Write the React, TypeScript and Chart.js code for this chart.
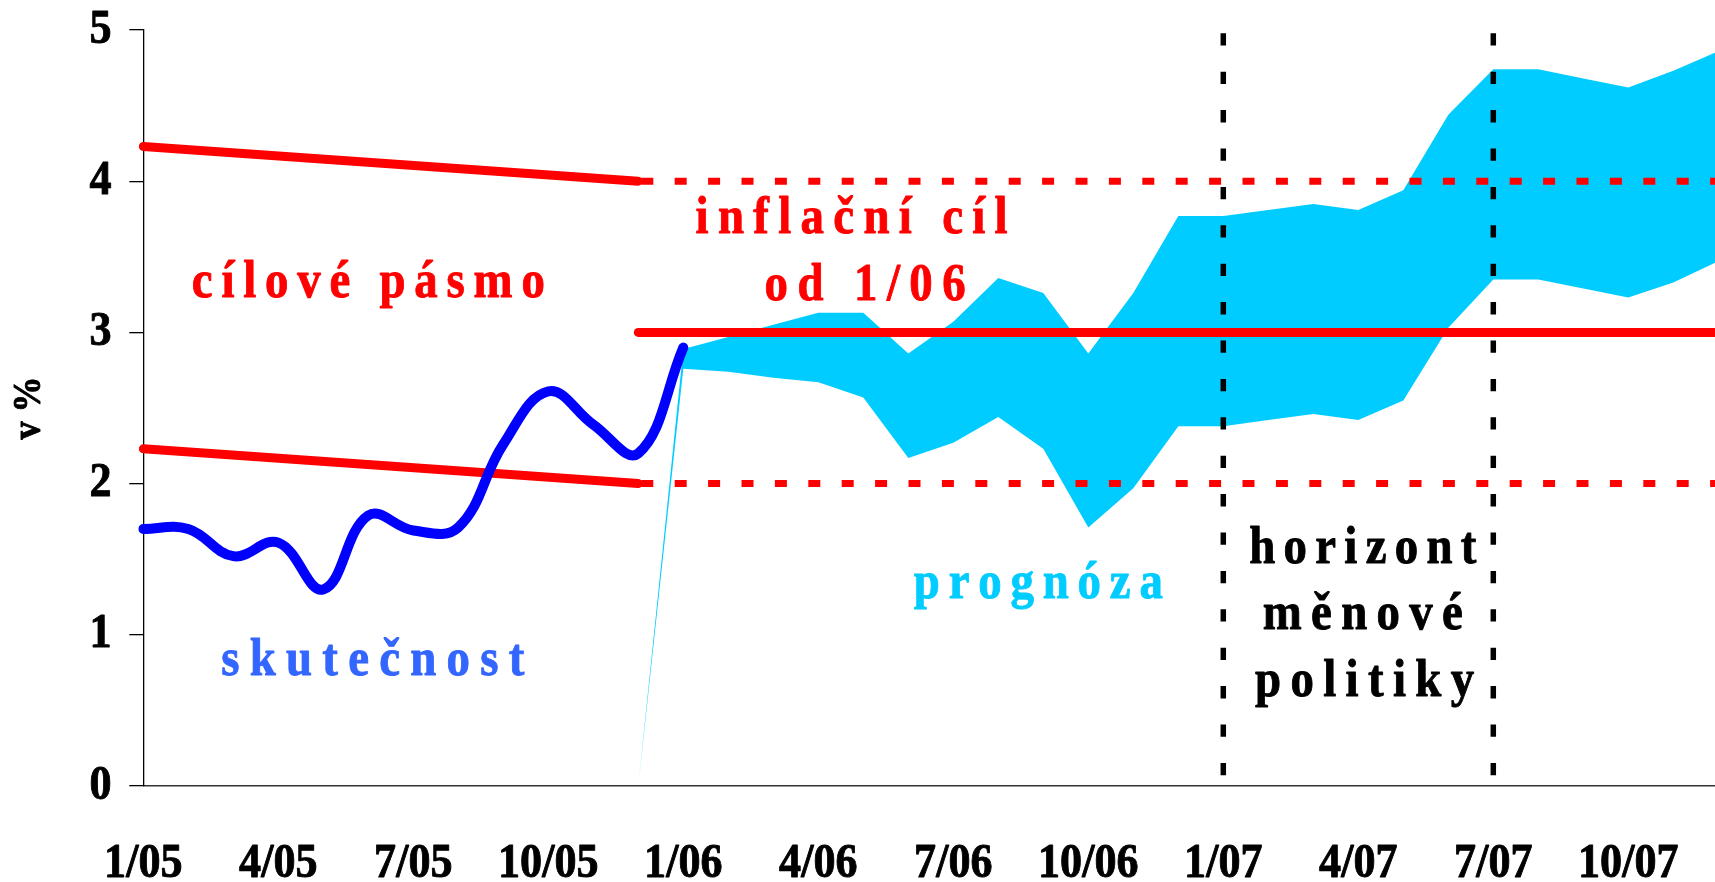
import React, { useEffect, useRef } from 'react';
import { Chart, registerables } from 'chart.js';

Chart.register(...registerables);

// ---------- data ----------
const months = [
  '1/05', '2/05', '3/05', '4/05', '5/05', '6/05', '7/05', '8/05', '9/05', '10/05', '11/05', '12/05',
  '1/06', '2/06', '3/06', '4/06', '5/06', '6/06', '7/06', '8/06', '9/06', '10/06', '11/06', '12/06',
  '1/07', '2/07', '3/07', '4/07', '5/07', '6/07', '7/07', '8/07', '9/07', '10/07', '11/07', '12/07',
];
const tickLabels = ['1/05', '4/05', '7/05', '10/05', '1/06', '4/06', '7/06', '10/06', '1/07', '4/07', '7/07', '10/07'];

// actual inflation (skutečnost)
const actualMonths = ['1/05', '2/05', '3/05', '4/05', '5/05', '6/05', '7/05', '8/05', '9/05', '10/05', '11/05', '12/05', '1/06'];
const actualValues = [1.70, 1.70, 1.52, 1.61, 1.30, 1.79, 1.69, 1.71, 2.26, 2.61, 2.39, 2.20, 2.90];

// forecast band (prognóza)
const forecastMonths = [
  '12/05', '1/06', '2/06', '3/06', '4/06', '5/06', '6/06', '7/06', '8/06', '9/06', '10/06', '11/06', '12/06',
  '1/07', '2/07', '3/07', '4/07', '5/07', '6/07', '7/07', '8/07', '9/07', '10/07', '11/07', '12/07',
];
const forecastLower = [0, 2.76, 2.74, 2.70, 2.67, 2.57, 2.17, 2.27, 2.44, 2.23, 1.71, 1.97, 2.38,
  2.38, 2.42, 2.46, 2.42, 2.55, 3.03, 3.35, 3.35, 3.29, 3.23, 3.33, 3.47];
const forecastUpper = [0, 2.89, 2.97, 3.05, 3.13, 3.13, 2.86, 3.07, 3.36, 3.26, 2.86, 3.26, 3.77,
  3.77, 3.81, 3.85, 3.81, 3.94, 4.44, 4.74, 4.74, 4.68, 4.62, 4.73, 4.86];

// target corridor 2005 (cílové pásmo)
const corridorMonths = ['1/05', '12/05'];
const corridorUpper = [4.23, 4.0];
const corridorLower = [2.23, 2.0];

// inflation target from 1/06 (inflační cíl) and tolerance band
const targetMonths = ['12/05', '12/07'];
const targetValues = [3, 3];
const toleranceUpper = [4, 4];
const toleranceLower = [2, 2];

// monetary policy horizon
const horizonMonths = ['1/07', '7/07'];
const horizonRange = [5, 0];

// ---------- styles ----------
const FONT = '"Liberation Serif", "Times New Roman", serif';
const RED = '#FF0000';
const BLUE = '#0000FF';
const CYAN = '#00CCFF';
const TEXT_BLUE = '#3366FF';
const TEXT_CONDENSE = 0.9; // the original lettering is slightly narrow
const TEXT_EMBOLDEN = 0.9; // extra stroke width for the heavy original lettering
const ANNOTATION_SIZE = 52;

// annotation texts: anchor in data units (month index, value), spread to a width in px
const annotations = [
  { text: 'cílové pásmo', month: 5.0, value: 3.236, color: RED, width: 353 },
  { text: 'inflační cíl', month: 15.74, value: 3.657, color: RED, width: 312 },
  { text: 'od 1/06', month: 16.04, value: 3.214, color: RED, width: 201 },
  { text: 'skutečnost', month: 5.1, value: 0.734, color: TEXT_BLUE, width: 303 },
  { text: 'prognóza', month: 19.89, value: 1.241, color: CYAN, width: 249 },
  { text: 'horizont', month: 27.1, value: 1.477, color: '#000000', width: 227 },
  { text: 'měnové', month: 27.1, value: 1.036, color: '#000000', width: 200 },
  { text: 'politiky', month: 27.14, value: 0.595, color: '#000000', width: 219 },
];

const pts = (xs: string[], ys: number[]) => xs.map((x, i) => ({ x, y: ys[i] }));

// draws axis texts slightly condensed (and a touch heavier) around their anchor point
const condensePlugin = {
  id: 'condenseAxisText',
  beforeDraw(chart: any) {
    const ctx = chart.ctx;
    const orig = CanvasRenderingContext2D.prototype.fillText;
    const origStroke = CanvasRenderingContext2D.prototype.strokeText;
    ctx.fillText = function (text: string, x: number, y: number, maxWidth?: number) {
      this.save();
      this.translate(x, y);
      this.scale(TEXT_CONDENSE, 1);
      if (maxWidth === undefined) orig.call(this, text, 0, 0);
      else orig.call(this, text, 0, 0, maxWidth / TEXT_CONDENSE);
      this.strokeStyle = this.fillStyle;
      this.lineWidth = TEXT_EMBOLDEN;
      this.lineJoin = 'round';
      origStroke.call(this, text, 0, 0);
      this.restore();
    };
  },
  beforeDatasetsDraw(chart: any) {
    delete chart.ctx.fillText;
  },
  afterDraw(chart: any) {
    delete chart.ctx.fillText;
  },
};

const annotationPlugin = {
  id: 'textAnnotations',
  afterDatasetsDraw(chart: any) {
    const { ctx, scales } = chart;
    const xs = scales.x;
    const ys = scales.y;
    ctx.save();
    ctx.font = `bold ${ANNOTATION_SIZE}px ${FONT}`;
    ctx.textBaseline = 'alphabetic';
    ctx.textAlign = 'left';
    ctx.lineJoin = 'round';
    for (const a of annotations) {
      const cx = xs.getPixelForValue(a.month);
      const by = ys.getPixelForValue(a.value);
      const chars = Array.from(a.text);
      const widths = chars.map((c) => ctx.measureText(c).width * TEXT_CONDENSE);
      const natural = widths.reduce((s, w) => s + w, 0);
      const spacing = Math.max((a.width - natural) / (chars.length - 1), 0);
      const total = natural + spacing * (chars.length - 1);
      let x = cx - total / 2;
      ctx.fillStyle = a.color;
      ctx.strokeStyle = a.color;
      ctx.lineWidth = TEXT_EMBOLDEN;
      chars.forEach((c, i) => {
        ctx.save();
        ctx.translate(x, by);
        ctx.scale(TEXT_CONDENSE, 1);
        ctx.fillText(c, 0, 0);
        ctx.strokeText(c, 0, 0);
        ctx.restore();
        x += widths[i] + spacing;
      });
    }
    ctx.restore();
  },
};

export default function App() {
  const ref = useRef<HTMLCanvasElement>(null);

  useEffect(() => {
    const canvas = ref.current;
    if (!canvas) return;

    const datasets: any[] = [
      {
        label: 'forecast lower',
        data: pts(forecastMonths, forecastLower),
        borderWidth: 0,
        borderColor: 'transparent',
        pointRadius: 0,
        fill: false,
        order: 10,
      },
      {
        label: 'forecast upper',
        data: pts(forecastMonths, forecastUpper),
        borderWidth: 0,
        borderColor: 'transparent',
        backgroundColor: CYAN,
        pointRadius: 0,
        fill: '-1',
        order: 9,
      },
      {
        label: 'tolerance upper',
        data: pts(targetMonths, toleranceUpper),
        borderColor: RED,
        borderWidth: 7,
        borderDash: [12, 21.4],
        borderDashOffset: 30.4,
        borderCapStyle: 'butt',
        pointRadius: 0,
        fill: false,
        order: 5,
      },
      {
        label: 'tolerance lower',
        data: pts(targetMonths, toleranceLower),
        borderColor: RED,
        borderWidth: 7,
        borderDash: [12, 21.4],
        borderDashOffset: 30.4,
        borderCapStyle: 'butt',
        pointRadius: 0,
        fill: false,
        order: 5,
      },
      {
        label: 'target',
        data: pts(targetMonths, targetValues),
        borderColor: RED,
        borderWidth: 9,
        borderCapStyle: 'round',
        pointRadius: 0,
        fill: false,
        order: 4,
      },
      {
        label: 'corridor upper',
        data: pts(corridorMonths, corridorUpper),
        borderColor: RED,
        borderWidth: 9,
        borderCapStyle: 'round',
        pointRadius: 0,
        fill: false,
        order: 4,
      },
      {
        label: 'corridor lower',
        data: pts(corridorMonths, corridorLower),
        borderColor: RED,
        borderWidth: 9,
        borderCapStyle: 'round',
        pointRadius: 0,
        fill: false,
        order: 4,
      },
      ...horizonMonths.map((m) => ({
        label: 'horizon ' + m,
        data: horizonRange.map((y) => ({ x: m, y })),
        borderColor: '#000000',
        borderWidth: 5.5,
        borderDash: [12.3, 26.1],
        borderDashOffset: 35.1,
        borderCapStyle: 'butt',
        pointRadius: 0,
        fill: false,
        order: 3,
      })),
      {
        label: 'actual',
        data: pts(actualMonths, actualValues),
        borderColor: BLUE,
        borderWidth: 10,
        tension: 0.4,
        borderCapStyle: 'round',
        borderJoinStyle: 'round',
        pointRadius: 0,
        fill: false,
        order: 1,
      },
    ];

    const chart = new Chart(canvas, {
      type: 'line',
      data: { labels: months, datasets },
      options: {
        responsive: false,
        animation: false,
        events: [],
        layout: { padding: { left: 0, right: 1.7, top: 30, bottom: 0 } },
        plugins: {
          legend: { display: false },
          tooltip: { enabled: false },
        },
        elements: { point: { radius: 0, hoverRadius: 0 } },
        scales: {
          x: {
            type: 'category',
            offset: false,
            grid: { display: false },
            border: { display: true, color: '#333333', width: 1.5 },
            ticks: {
              autoSkip: false,
              maxRotation: 0,
              minRotation: 0,
              padding: 41.4,
              color: '#000000',
              font: { family: FONT, size: 49, weight: 'bold' },
              callback: (_v: any, i: number) => (tickLabels.includes(months[i]) ? months[i] : ''),
            },
            afterFit: (s: any) => {
              s.height = 96;
              s.paddingLeft = 0;
              s.paddingRight = 0;
            },
          },
          y: {
            min: 0,
            max: 5,
            ticks: {
              stepSize: 1,
              padding: 17.7,
              color: '#000000',
              font: { family: FONT, size: 49, weight: 'bold' },
            },
            grid: { drawOnChartArea: false, drawTicks: true, tickLength: 14, color: '#000000', lineWidth: 1.3 },
            border: { display: true, color: '#000000', width: 1.3 },
            title: {
              display: true,
              text: 'v %',
              color: '#000000',
              font: { family: FONT, size: 40, weight: 'bold' },
              padding: { top: 6, bottom: 0 },
            },
            afterFit: (s: any) => {
              s.width = 143.3;
              s.paddingTop = 0;
              s.paddingBottom = 0;
            },
          },
        },
      } as any,
      plugins: [condensePlugin, annotationPlugin],
    });

    return () => chart.destroy();
  }, []);

  return (
    <div
      style={{
        position: 'fixed',
        left: 0,
        top: 0,
        width: 1715,
        height: 882,
        overflow: 'hidden',
        background: '#ffffff',
      }}
    >
      <canvas ref={ref} width={1720} height={882} style={{ display: 'block', width: 1720, height: 882 }} />
    </div>
  );
}
